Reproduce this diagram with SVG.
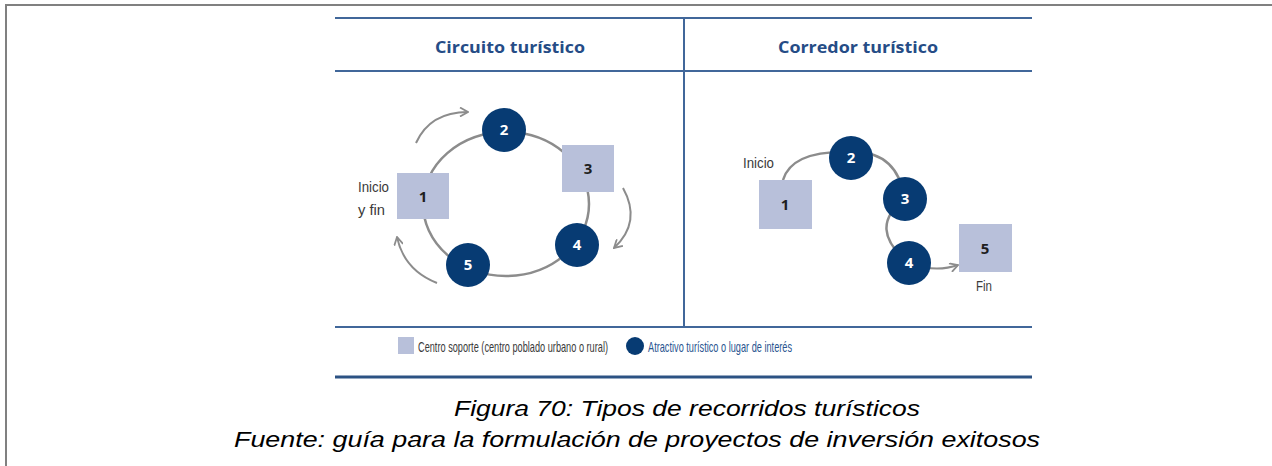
<svg xmlns="http://www.w3.org/2000/svg" width="1272" height="466" viewBox="0 0 1272 466">
<defs>
<style>
.frame{stroke:#808080;stroke-width:2;fill:none}
.rule{stroke:#41679a;stroke-width:2;fill:none}
.rule2{stroke:#2c5283;stroke-width:3;fill:none}
.head{font-family:"Open Sans","Liberation Sans",sans-serif;font-weight:bold;font-size:16px;fill:#254c86}
.sq{fill:#b8c0da}
.ci{fill:#073b73}
.route{stroke:#8c8c8c;stroke-width:2.5;fill:none}
.arr{stroke:#8c8c8c;stroke-width:2;fill:none}
.nsq{font-family:"Open Sans","Liberation Sans",sans-serif;font-weight:bold;font-size:15px;fill:#1e1e1e;text-anchor:middle}
.nci{font-family:"Open Sans","Liberation Sans",sans-serif;font-weight:bold;font-size:15px;fill:#ffffff;text-anchor:middle}
.lbl{font-family:"Liberation Sans Narrow","Liberation Sans",sans-serif;font-size:15px;fill:#3a3a3a}
.leg{font-family:"Liberation Sans Narrow","Liberation Sans",sans-serif;font-size:14px;fill:#3a3a3a}
.legb{font-family:"Liberation Sans Narrow","Liberation Sans",sans-serif;font-size:14px;fill:#2a5590}
.cap{font-family:"Liberation Sans",Arial,sans-serif;font-style:italic;font-size:21.5px;fill:#000;text-anchor:middle}
</style>
<marker id="chev" viewBox="0 0 10 10" refX="9" refY="5" markerWidth="10" markerHeight="10" markerUnits="userSpaceOnUse" orient="auto">
<path d="M1 0.5 L9 5 L1 9.5" fill="none" stroke="#8c8c8c" stroke-width="1.8"/>
</marker>
</defs>
<rect width="1272" height="466" fill="#ffffff"/>
<path class="frame" d="M6 466 V5 H1272"/>
<g id="table">
<line class="rule" x1="335" y1="18" x2="1032" y2="18"/>
<line class="rule" x1="335" y1="71" x2="1032" y2="71"/>
<line class="rule" x1="684" y1="18" x2="684" y2="327"/>
<line class="rule" x1="335" y1="327" x2="1032" y2="327"/>
<line class="rule2" x1="335" y1="377" x2="1032" y2="377"/>
<text class="head" x="435" y="53" textLength="150" lengthAdjust="spacingAndGlyphs">Circuito turístico</text>
<text class="head" x="778" y="53" textLength="160" lengthAdjust="spacingAndGlyphs">Corredor turístico</text>
</g>
<g id="connectors">
<ellipse class="route" cx="506" cy="204" rx="83" ry="72"/>
<path class="arr" d="M416 143 Q430 112 468 112" marker-end="url(#chev)"/>
<path class="arr" d="M623 188 Q642 222 614 248" marker-end="url(#chev)"/>
<path class="arr" d="M437 283 Q404 270 397 237" marker-end="url(#chev)"/>
<path class="route" d="M783 180 Q792 150 851 152"/>
<path class="route" d="M851 152 Q897 150 905 199"/>
<path class="route" d="M905 199 Q866 228 909 263"/>
<path class="arr" d="M909 263 Q935 273 958 265" stroke-width="2.5" marker-end="url(#chev)"/>
</g>
<g id="c-n1"><rect class="sq" x="397" y="173" width="52" height="46"/><text class="nsq" x="423" y="202">1</text></g>
<g id="c-n2"><circle class="ci" cx="504" cy="130" r="22"/><text class="nci" x="504" y="135">2</text></g>
<g id="c-n3"><rect class="sq" x="562" y="145" width="52" height="47"/><text class="nsq" x="588" y="174">3</text></g>
<g id="c-n4"><circle class="ci" cx="577" cy="245" r="22"/><text class="nci" x="577" y="250">4</text></g>
<g id="c-n5"><circle class="ci" cx="468" cy="265" r="22"/><text class="nci" x="468" y="270">5</text></g>
<g id="c-label">
<text class="lbl" x="358" y="192" textLength="31" lengthAdjust="spacingAndGlyphs">Inicio</text>
<text class="lbl" x="358" y="215" textLength="27" lengthAdjust="spacingAndGlyphs">y fin</text>
</g>
<g id="r-n1"><rect class="sq" x="759" y="180" width="53" height="49"/><text class="nsq" x="785" y="210">1</text></g>
<g id="r-n2"><circle class="ci" cx="851" cy="158" r="22"/><text class="nci" x="851" y="163">2</text></g>
<g id="r-n3"><circle class="ci" cx="905" cy="199" r="22"/><text class="nci" x="905" y="204">3</text></g>
<g id="r-n4"><circle class="ci" cx="909" cy="263" r="22"/><text class="nci" x="909" y="268">4</text></g>
<g id="r-n5"><rect class="sq" x="959" y="224" width="53" height="48"/><text class="nsq" x="985" y="254">5</text></g>
<g id="r-labels">
<text class="lbl" x="743" y="168" textLength="31" lengthAdjust="spacingAndGlyphs">Inicio</text>
<text class="lbl" x="976" y="291" textLength="16" lengthAdjust="spacingAndGlyphs">Fin</text>
</g>
<g id="legend">
<rect class="sq" x="398" y="337" width="16" height="17"/>
<text class="leg" transform="translate(418 352) scale(0.8 1)" x="0" y="0" textLength="237.5" lengthAdjust="spacingAndGlyphs">Centro soporte (centro poblado urbano o rural)</text>
<circle class="ci" cx="635" cy="346" r="9"/>
<text class="legb" transform="translate(648 352) scale(0.8 1)" x="0" y="0" textLength="180" lengthAdjust="spacingAndGlyphs">Atractivo turístico o lugar de interés</text>
</g>
<g id="caption">
<text class="cap" x="687" y="416" textLength="466" lengthAdjust="spacingAndGlyphs">Figura 70: Tipos de recorridos turísticos</text>
<text class="cap" x="637" y="447" textLength="806" lengthAdjust="spacingAndGlyphs">Fuente: guía para la formulación de proyectos de inversión exitosos</text>
</g>
</svg>
